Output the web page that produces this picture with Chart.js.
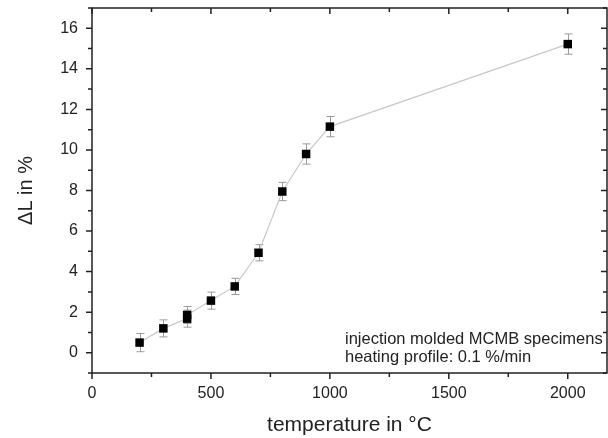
<!DOCTYPE html>
<html>
<head>
<meta charset="utf-8">
<script src="https://cdn.jsdelivr.net/npm/chart.js@4.4.1/dist/chart.umd.min.js"></script>
<style>
  html, body { margin: 0; padding: 0; background: #fff; }
  #wrap { width: 608px; height: 438px; position: relative; }
</style>
</head>
<body>
<div id="wrap"><canvas id="myChart"></canvas></div>
<script>
// data
const temps = [200, 300, 400, 400, 500, 600, 700, 800, 900, 1000, 2000];
const strain = [0.5, 1.2, 1.68, 1.86, 2.57, 3.27, 4.93, 7.95, 9.8, 11.15, 15.22];
const strainErr = [0.45, 0.42, 0.42, 0.42, 0.42, 0.4, 0.4, 0.45, 0.5, 0.5, 0.5];
const xTicks = [0, 500, 1000, 1500, 2000];
const yTicks = [0, 2, 4, 6, 8, 10, 12, 14, 16];
const noteLines = ['injection molded MCMB specimens', 'heating profile: 0.1 %/min'];

const FONT = 'Arial, "Liberation Sans", sans-serif';

// error bars, frame, minor ticks and the text box
const extras = {
    id: 'extras',
    beforeDatasetsDraw(chart) {
        const ctx = chart.ctx;
        const x = chart.scales.x, y = chart.scales.y;
        ctx.save();
        ctx.strokeStyle = '#9a9a9a';
        ctx.lineWidth = 1;
        temps.forEach((t, i) => {
            const px = Math.round(x.getPixelForValue(t)) + 0.5;
            const top = y.getPixelForValue(strain[i] + strainErr[i]);
            const bot = y.getPixelForValue(strain[i] - strainErr[i]);
            ctx.beginPath();
            ctx.moveTo(px, top); ctx.lineTo(px, bot);
            ctx.moveTo(px - 4, top); ctx.lineTo(px + 4, top);
            ctx.moveTo(px - 4, bot); ctx.lineTo(px + 4, bot);
            ctx.stroke();
        });
        ctx.restore();
    },
    afterDraw(chart) {
        const ctx = chart.ctx;
        const a = chart.chartArea;
        const x = chart.scales.x, y = chart.scales.y;
        ctx.save();
        ctx.strokeStyle = '#222';
        ctx.lineWidth = 1.5;
        ctx.strokeRect(a.left, a.top, a.right - a.left, a.bottom - a.top);
        ctx.beginPath();
        for (let v = 0; v <= 2000; v += 250) {
            const px = x.getPixelForValue(v);
            const len = v % 500 === 0 ? 6 : 4;
            ctx.moveTo(px, a.bottom); ctx.lineTo(px, a.bottom + len);
            ctx.moveTo(px, a.top); ctx.lineTo(px, a.top + len);
        }
        for (let v = -1; v <= 17; v += 1) {
            const py = y.getPixelForValue(v);
            const len = v % 2 === 0 ? 6 : 4;
            ctx.moveTo(a.left, py); ctx.lineTo(a.left - len, py);
            ctx.moveTo(a.right, py); ctx.lineTo(a.right - len, py);
        }
        ctx.stroke();
        ctx.fillStyle = '#222';
        ctx.font = '16.5px ' + FONT;
        ctx.textBaseline = 'alphabetic';
        ctx.fillText(noteLines[0], 345, 344);
        ctx.fillText(noteLines[1], 345, 362);
        ctx.restore();
    }
};

const ctx = document.getElementById('myChart').getContext('2d');
const myChart = new Chart(ctx, {
    type: 'scatter',
    data: {
        datasets: [{
            data: temps.map((t, i) => ({ x: t, y: strain[i] })),
            showLine: true,
            borderColor: '#c8c8c8',
            borderWidth: 1.2,
            pointStyle: 'rect',
            pointRadius: 6,
            pointBackgroundColor: '#000',
            pointBorderColor: '#000',
            pointBorderWidth: 0
        }]
    },
    options: {
        responsive: true,
        maintainAspectRatio: false,
        animation: false,
        layout: { autoPadding: false, padding: { top: 8, right: 1, left: 0, bottom: 0 } },
        plugins: { legend: { display: false }, tooltip: { enabled: false } },
        scales: {
            x: {
                type: 'linear',
                min: 0,
                max: 2165,
                grid: { display: false },
                border: { display: false },
                afterBuildTicks: (s) => { s.ticks = xTicks.map(v => ({ value: v })); },
                afterFit: (s) => {
                    s.height = 65;
                    s.paddingLeft = 0; s.paddingRight = 0;
                },
                ticks: {
                    padding: 3,
                    maxRotation: 0,
                    color: '#222',
                    font: { family: FONT, size: 16 },
                    callback: (v) => String(v)
                },
                title: {
                    display: true,
                    text: 'temperature in °C',
                    color: '#222',
                    font: { family: FONT, size: 21 },
                    padding: { top: 0, bottom: 0 }
                }
            },
            y: {
                type: 'linear',
                min: -1,
                max: 17,
                grid: { display: false },
                border: { display: false },
                afterBuildTicks: (s) => { s.ticks = yTicks.map(v => ({ value: v })); },
                afterFit: (s) => {
                    s.width = 92;
                    s.paddingTop = 0; s.paddingBottom = 0;
                },
                ticks: {
                    padding: 6,
                    color: '#222',
                    font: { family: FONT, size: 16 },
                    callback: (v) => String(v)
                },
                title: {
                    display: true,
                    text: 'ΔL in %',
                    color: '#222',
                    font: { family: FONT, size: 20 },
                    padding: { top: 14, bottom: 0 }
                }
            }
        }
    },
    plugins: [extras]
});
</script>
</body>
</html>
